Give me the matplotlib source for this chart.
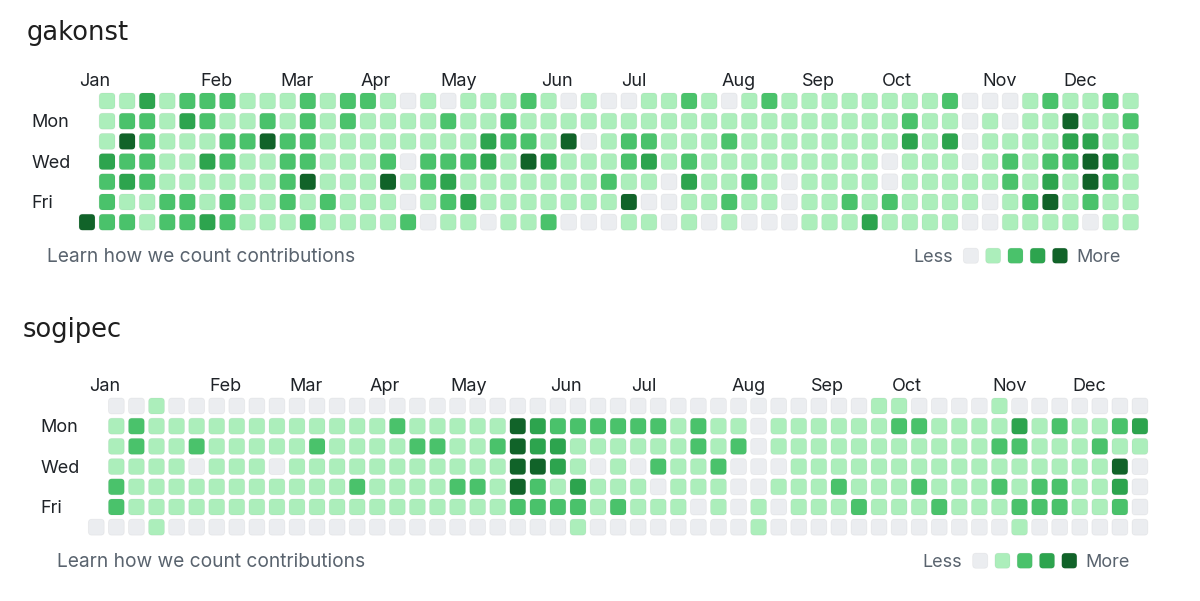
import matplotlib
matplotlib.use("Agg")
import matplotlib.pyplot as plt
from matplotlib.patches import FancyBboxPatch

plt.rcParams['font.family'] = ['Inter', 'DejaVu Sans']

# ---------------- data ----------------
weekday_labels = ["Mon", "Wed", "Fri"]
weekday_rows = [1, 3, 5]
month_labels = ["Jan", "Feb", "Mar", "Apr", "May", "Jun", "Jul", "Aug", "Sep", "Oct", "Nov", "Dec"]
month_cols = [0, 6, 10, 14, 18, 23, 27, 32, 36, 40, 45, 49]
level_colors = ["#ebedf0", "#aceebb", "#4ac26b", "#2da44e", "#116329"]

# contribution levels, one string per weekday row (Sun..Sat), one char per week; '-' = no day
gakonst_levels = [
    "-" + "1131222111212" + "2101011121010" + "0112101211111" + "1112000121121",
    "-" + "1221321121212" + "1111211211111" + "1111111111111" + "1211010114112",
    "-" + "1421112242211" + "1111113221401" + "2211121111111" + "1313011113311",
    "-" + "3221132112211" + "1202223143111" + "2312111111111" + "0111012122431",
    "-" + "2321111112411" + "1412311111112" + "1103112101111" + "0111112131421",
    "-" + "2112212112121" + "1101231111111" + "4001121101121" + "2111101241211",
    "4" + "2212232111211" + "1120110112000" + "1101010001113" + "1111001111011",
]

sogipec_levels = [
    "-" + "0010000000000" + "0000000000000" + "0000000000001" + "1000010000000",
    "-" + "1211111111111" + "1211111432222" + "2212110111111" + "2211113121123",
    "-" + "1211211111211" + "1122112433111" + "1112120111111" + "1111122111211",
    "-" + "1111011101111" + "1111111443101" + "0211200011111" + "1111111111140",
    "-" + "2111111111112" + "1111221421311" + "1011100111211" + "1211121221130",
    "-" + "2111111111111" + "1111111222212" + "1110101011121" + "1121112221120",
    "0" + "0010000000000" + "0000000000100" + "0000001000000" + "0000001000000",
]

users = ["gakonst", "sogipec"]
learn_text = "Learn how we count contributions"

# ---------------- layout ----------------
W, H = 1200, 601
fig = plt.figure(figsize=(W / 100, H / 100), dpi=100)
fig.patch.set_facecolor("white")

px_x, px_y = 20.07, 20.2
grids = [
    dict(levels=gakonst_levels, x0=87.0, y0=101.0, title=users[0], tx=-2.99, ty=-3.02),
    dict(levels=sogipec_levels, x0=96.3, y0=406.0, title=users[1], tx=-3.65, ty=-3.42),
]

label_col = "#1f2328"
muted = "#59636e"
cell = 0.79
rnd = 0.17


def add_cell(ax, cx, cy, size, level):
    p = FancyBboxPatch((cx - size / 2, cy - size / 2), size, size,
                       boxstyle=f"round,pad=0,rounding_size={rnd}",
                       facecolor=level_colors[level],
                       edgecolor=(0.11, 0.12, 0.14, 0.05), linewidth=0.6,
                       clip_on=False)
    ax.add_patch(p)


for g in grids:
    nrows = len(g["levels"])
    ncols = len(g["levels"][0])
    left = g["x0"] - 0.5 * px_x
    top = g["y0"] - 0.5 * px_y
    ax = fig.add_axes([left / W, 1 - (top + nrows * px_y) / H, ncols * px_x / W, nrows * px_y / H])
    ax.set_xlim(-0.5, ncols - 0.5)
    ax.set_ylim(nrows - 0.5, -0.5)
    ax.axis("off")

    for r, row in enumerate(g["levels"]):
        for c, ch in enumerate(row):
            if ch == "-":
                continue
            add_cell(ax, c, r, cell, int(ch))

    # title
    ax.text(g["tx"], g["ty"], g["title"], fontsize=18.5, color="#1e1e1e",
            family=["DejaVu Sans"], ha="left", va="baseline", clip_on=False)

    # month labels
    for lab, col in zip(month_labels, month_cols):
        ax.text(col - 0.37, -0.72, lab, fontsize=13, color=label_col,
                ha="left", va="baseline", clip_on=False)

    # weekday labels
    for lab, r in zip(weekday_labels, weekday_rows):
        ax.text(-2.78, r + 0.3, lab, fontsize=13, color=label_col,
                ha="left", va="baseline", clip_on=False)

    # footer
    ax.text(-1.97, 7.95, learn_text, fontsize=13.8, color=muted,
            ha="left", va="baseline", clip_on=False)

    ax.text(43.15, 7.95, "Less", fontsize=13, color=muted,
            ha="right", va="baseline", clip_on=False)
    for i in range(len(level_colors)):
        add_cell(ax, 44.04 + 1.11 * i, 7.66, 0.75, i)
    ax.text(49.3, 7.95, "More", fontsize=13, color=muted,
            ha="left", va="baseline", clip_on=False)

fig.savefig("out.png", dpi=100, facecolor="white")
